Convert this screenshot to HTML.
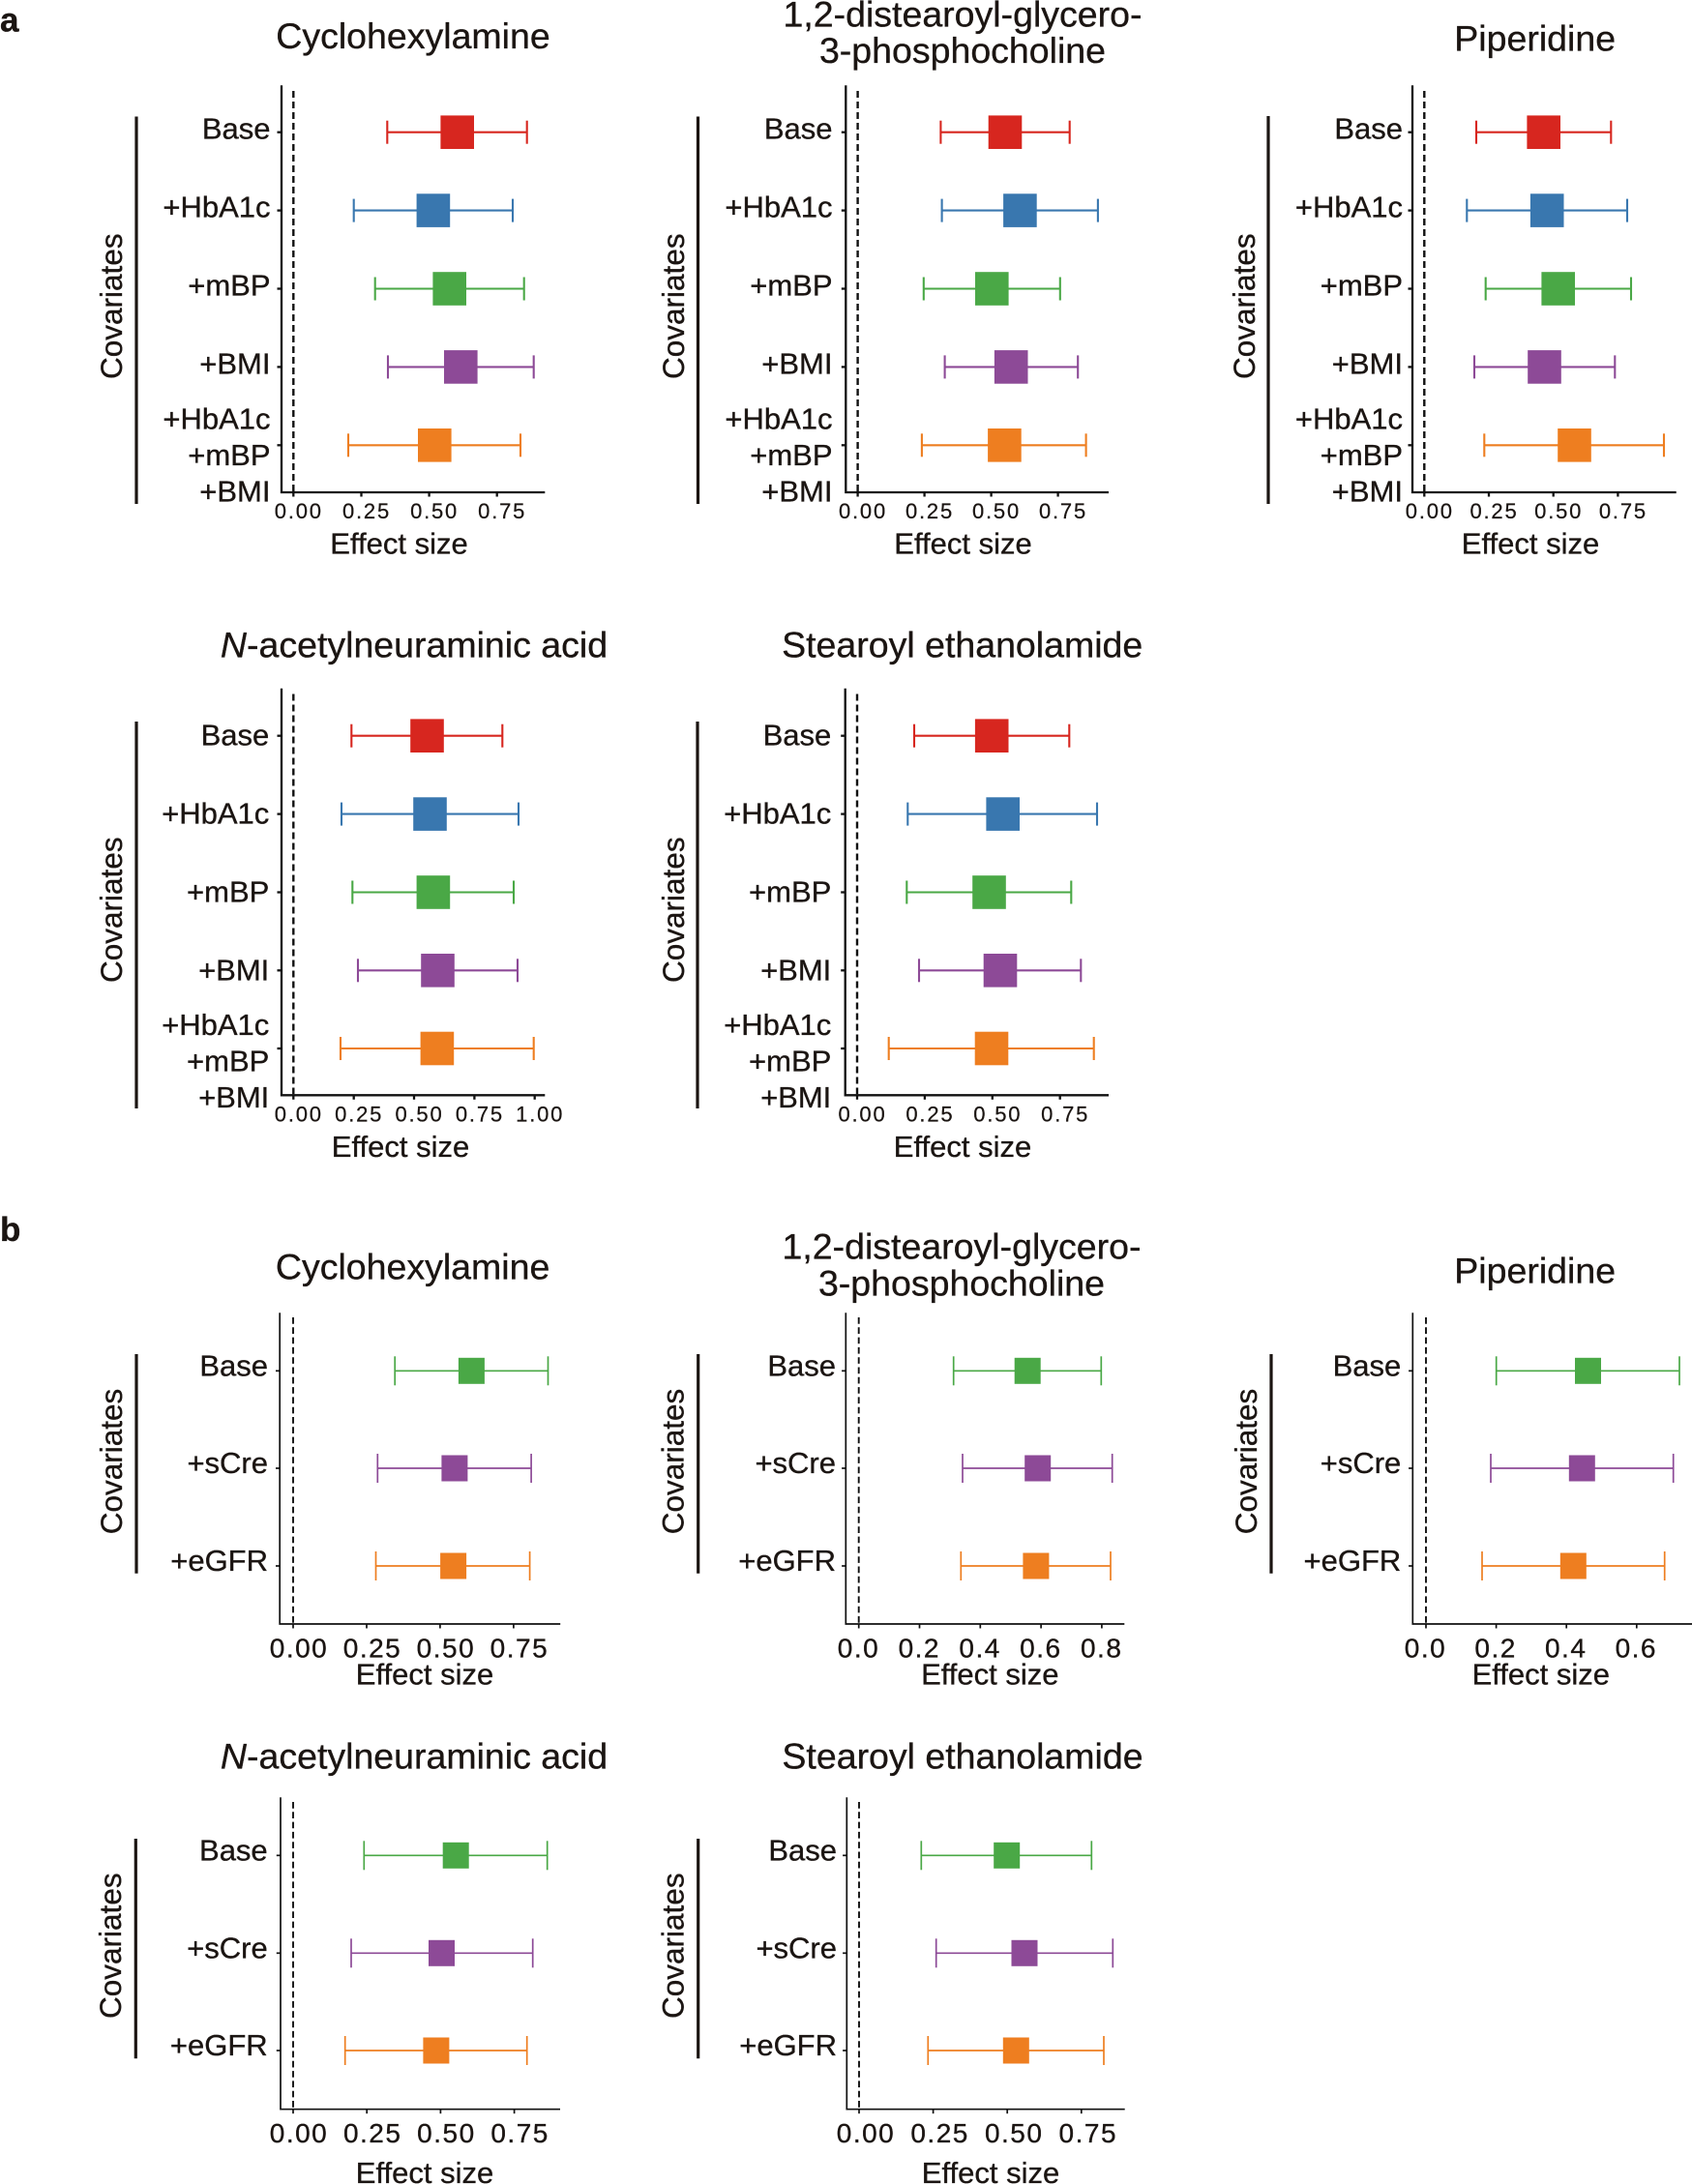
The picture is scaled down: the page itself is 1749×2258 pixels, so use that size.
<!DOCTYPE html>
<html>
<head>
<meta charset="utf-8">
<style>
html,body{margin:0;padding:0;background:#fff;}
svg{display:block;}
text{font-family:"Liberation Sans",Arial,sans-serif;fill:#1b1512;stroke:#1b1512;stroke-width:0.35px;}
.ttl{font-size:37.5px;text-anchor:middle;}
.lab{font-size:31px;text-anchor:end;}
.tka{font-size:22px;letter-spacing:1.8px;text-anchor:middle;stroke-width:0.25px;}
.tkb{font-size:28px;letter-spacing:1.5px;text-anchor:middle;}
.axt{font-size:31px;text-anchor:middle;}
.cov{font-size:31.5px;text-anchor:middle;}
.pl{font-size:35px;font-weight:bold;}
.axa{stroke:#111;stroke-width:2.3;fill:none;}
.axb{stroke:#111;stroke-width:1.7;fill:none;}
.dsa{stroke:#111;stroke-width:2.4;stroke-dasharray:7 4;}
.dsb{stroke:#111;stroke-width:1.9;stroke-dasharray:6.7 3.6;}
.br{stroke:#1b1512;stroke-width:3.2;}
.wa{stroke-width:2.1;fill:none;}
.wb{stroke-width:1.7;fill:none;}
.r{stroke:#D7261F;fill:#D7261F;}
.u{stroke:#3977AF;fill:#3977AF;}
.g{stroke:#4AA846;fill:#4AA846;}
.p{stroke:#8D4A97;fill:#8D4A97;}
.o{stroke:#EE7E20;fill:#EE7E20;}
.wa line,.wb line{fill:none;}
rect{stroke:none;}
</style>
</head>
<body>
<svg width="1749" height="2258" viewBox="0 0 1749 2258" xmlns="http://www.w3.org/2000/svg">
<rect x="0" y="0" width="1749" height="2258" fill="#fff"/>

<!-- panel labels -->
<text class="pl" x="0" y="32.6">a</text>
<text class="pl" x="0" y="1283">b</text>

<!-- ============ a1 Cyclohexylamine ============ -->
<text class="ttl" x="427" y="50">Cyclohexylamine</text>
<line class="br" x1="141" y1="120.5" x2="141" y2="521"/>
<text class="cov" transform="translate(126,316.7) rotate(-90)">Covariates</text>
<path class="axa" d="M291,88.3 V509 H563.3"/>
<line class="dsa" x1="303.3" y1="94" x2="303.3" y2="508"/>
<g class="axa">
<line x1="286.5" y1="136.7" x2="291" y2="136.7"/><line x1="286.5" y1="217.6" x2="291" y2="217.6"/><line x1="286.5" y1="298.5" x2="291" y2="298.5"/><line x1="286.5" y1="379.4" x2="291" y2="379.4"/><line x1="286.5" y1="460.3" x2="291" y2="460.3"/>
<line x1="303.3" y1="509" x2="303.3" y2="513.5"/><line x1="373.5" y1="509" x2="373.5" y2="513.5"/><line x1="443.6" y1="509" x2="443.6" y2="513.5"/><line x1="513.7" y1="509" x2="513.7" y2="513.5"/>
</g>
<text class="tka" x="308.8" y="536">0.00</text><text class="tka" x="379" y="536">0.25</text><text class="tka" x="449.1" y="536">0.50</text><text class="tka" x="519.2" y="536">0.75</text>
<text class="axt" x="412.5" y="572.7">Effect size</text>
<text class="lab" x="279.5" y="143.6">Base</text>
<text class="lab" x="279.5" y="224.5">+HbA1c</text>
<text class="lab" x="279.5" y="305.4">+mBP</text>
<text class="lab" x="279.5" y="386.3">+BMI</text>
<text class="lab" x="279.5" y="443.3">+HbA1c</text>
<text class="lab" x="279.5" y="480.8">+mBP</text>
<text class="lab" x="279.5" y="518.3">+BMI</text>
<g class="wa r"><line x1="400.3" y1="136.7" x2="544.7" y2="136.7"/><line x1="400.3" y1="124.7" x2="400.3" y2="148.7"/><line x1="544.7" y1="124.7" x2="544.7" y2="148.7"/></g><rect class="r" x="455.9" y="119.9" width="33.6" height="33.6"/>
<g class="wa u"><line x1="365.7" y1="217.6" x2="530" y2="217.6"/><line x1="365.7" y1="205.6" x2="365.7" y2="229.6"/><line x1="530" y1="205.6" x2="530" y2="229.6"/></g><rect class="u" x="431.1" y="200.8" width="33.6" height="33.6"/>
<g class="wa g"><line x1="387.7" y1="298.5" x2="541.7" y2="298.5"/><line x1="387.7" y1="286.5" x2="387.7" y2="310.5"/><line x1="541.7" y1="286.5" x2="541.7" y2="310.5"/></g><rect class="g" x="447.9" y="281.7" width="33.6" height="33.6"/>
<g class="wa p"><line x1="401" y1="379.4" x2="551.7" y2="379.4"/><line x1="401" y1="367.4" x2="401" y2="391.4"/><line x1="551.7" y1="367.4" x2="551.7" y2="391.4"/></g><rect class="p" x="459.5" y="362.6" width="33.6" height="33.6"/>
<g class="wa o"><line x1="360" y1="460.3" x2="538" y2="460.3"/><line x1="360" y1="448.3" x2="360" y2="472.3"/><line x1="538" y1="448.3" x2="538" y2="472.3"/></g><rect class="o" x="432.5" y="443.5" width="33.6" height="33.6"/>

<!-- ============ a2 DSPC ============ -->
<text class="ttl" x="995" y="27.6">1,2-distearoyl-glycero-</text>
<text class="ttl" x="995" y="65.1">3-phosphocholine</text>
<line class="br" x1="721.5" y1="120.5" x2="721.5" y2="521"/>
<text class="cov" transform="translate(707,316.7) rotate(-90)">Covariates</text>
<path class="axa" d="M874.3,88.3 V509 H1146"/>
<line class="dsa" x1="886.6" y1="94" x2="886.6" y2="508"/>
<g class="axa">
<line x1="869.8" y1="136.7" x2="874.3" y2="136.7"/><line x1="869.8" y1="217.6" x2="874.3" y2="217.6"/><line x1="869.8" y1="298.5" x2="874.3" y2="298.5"/><line x1="869.8" y1="379.4" x2="874.3" y2="379.4"/><line x1="869.8" y1="460.3" x2="874.3" y2="460.3"/>
<line x1="886.6" y1="509" x2="886.6" y2="513.5"/><line x1="955.6" y1="509" x2="955.6" y2="513.5"/><line x1="1024.6" y1="509" x2="1024.6" y2="513.5"/><line x1="1093.6" y1="509" x2="1093.6" y2="513.5"/>
</g>
<text class="tka" x="892" y="536">0.00</text><text class="tka" x="961" y="536">0.25</text><text class="tka" x="1030" y="536">0.50</text><text class="tka" x="1099" y="536">0.75</text>
<text class="axt" x="995.5" y="572.3">Effect size</text>
<text class="lab" x="860.5" y="143.6">Base</text>
<text class="lab" x="860.5" y="224.5">+HbA1c</text>
<text class="lab" x="860.5" y="305.4">+mBP</text>
<text class="lab" x="860.5" y="386.3">+BMI</text>
<text class="lab" x="860.5" y="443.3">+HbA1c</text>
<text class="lab" x="860.5" y="480.8">+mBP</text>
<text class="lab" x="860.5" y="518.3">+BMI</text>
<g class="wa r"><line x1="972.4" y1="136.7" x2="1105.7" y2="136.7"/><line x1="972.4" y1="124.7" x2="972.4" y2="148.7"/><line x1="1105.7" y1="124.7" x2="1105.7" y2="148.7"/></g><rect class="r" x="1022.2" y="119.9" width="33.6" height="33.6"/>
<g class="wa u"><line x1="973.6" y1="217.6" x2="1134.9" y2="217.6"/><line x1="973.6" y1="205.6" x2="973.6" y2="229.6"/><line x1="1134.9" y1="205.6" x2="1134.9" y2="229.6"/></g><rect class="u" x="1037.6" y="200.8" width="33.6" height="33.6"/>
<g class="wa g"><line x1="954.8" y1="298.5" x2="1095.8" y2="298.5"/><line x1="954.8" y1="286.5" x2="954.8" y2="310.5"/><line x1="1095.8" y1="286.5" x2="1095.8" y2="310.5"/></g><rect class="g" x="1008.5" y="281.7" width="33.6" height="33.6"/>
<g class="wa p"><line x1="976.6" y1="379.4" x2="1114.2" y2="379.4"/><line x1="976.6" y1="367.4" x2="976.6" y2="391.4"/><line x1="1114.2" y1="367.4" x2="1114.2" y2="391.4"/></g><rect class="p" x="1028.4" y="362.6" width="33.6" height="33.6"/>
<g class="wa o"><line x1="952.9" y1="460.3" x2="1122.6" y2="460.3"/><line x1="952.9" y1="448.3" x2="952.9" y2="472.3"/><line x1="1122.6" y1="448.3" x2="1122.6" y2="472.3"/></g><rect class="o" x="1021.6" y="443.5" width="33.6" height="33.6"/>

<!-- ============ a3 Piperidine ============ -->
<text class="ttl" x="1586.7" y="52.7">Piperidine</text>
<line class="br" x1="1311" y1="120" x2="1311" y2="521"/>
<text class="cov" transform="translate(1297,316.7) rotate(-90)">Covariates</text>
<path class="axa" d="M1460,88.3 V509 H1732.7"/>
<line class="dsa" x1="1472.3" y1="94" x2="1472.3" y2="508"/>
<g class="axa">
<line x1="1455.5" y1="136.7" x2="1460" y2="136.7"/><line x1="1455.5" y1="217.6" x2="1460" y2="217.6"/><line x1="1455.5" y1="298.5" x2="1460" y2="298.5"/><line x1="1455.5" y1="379.4" x2="1460" y2="379.4"/><line x1="1455.5" y1="460.3" x2="1460" y2="460.3"/>
<line x1="1472.3" y1="509" x2="1472.3" y2="513.5"/><line x1="1539" y1="509" x2="1539" y2="513.5"/><line x1="1605.7" y1="509" x2="1605.7" y2="513.5"/><line x1="1672.4" y1="509" x2="1672.4" y2="513.5"/>
</g>
<text class="tka" x="1477.8" y="536">0.00</text><text class="tka" x="1544.5" y="536">0.25</text><text class="tka" x="1611.2" y="536">0.50</text><text class="tka" x="1677.9" y="536">0.75</text>
<text class="axt" x="1582" y="572.7">Effect size</text>
<text class="lab" x="1450" y="143.6">Base</text>
<text class="lab" x="1450" y="224.5">+HbA1c</text>
<text class="lab" x="1450" y="305.4">+mBP</text>
<text class="lab" x="1450" y="386.3">+BMI</text>
<text class="lab" x="1450" y="443.3">+HbA1c</text>
<text class="lab" x="1450" y="480.8">+mBP</text>
<text class="lab" x="1450" y="518.3">+BMI</text>
<g class="wa r"><line x1="1526" y1="136.7" x2="1665.3" y2="136.7"/><line x1="1526" y1="124.7" x2="1526" y2="148.7"/><line x1="1665.3" y1="124.7" x2="1665.3" y2="148.7"/></g><rect class="r" x="1578.9" y="119.9" width="33.6" height="33.6"/>
<g class="wa u"><line x1="1516.3" y1="217.6" x2="1682" y2="217.6"/><line x1="1516.3" y1="205.6" x2="1516.3" y2="229.6"/><line x1="1682" y1="205.6" x2="1682" y2="229.6"/></g><rect class="u" x="1582.4" y="200.8" width="33.6" height="33.6"/>
<g class="wa g"><line x1="1535.7" y1="298.5" x2="1686" y2="298.5"/><line x1="1535.7" y1="286.5" x2="1535.7" y2="310.5"/><line x1="1686" y1="286.5" x2="1686" y2="310.5"/></g><rect class="g" x="1593.9" y="281.7" width="33.6" height="33.6"/>
<g class="wa p"><line x1="1524" y1="379.4" x2="1669.3" y2="379.4"/><line x1="1524" y1="367.4" x2="1524" y2="391.4"/><line x1="1669.3" y1="367.4" x2="1669.3" y2="391.4"/></g><rect class="p" x="1579.7" y="362.6" width="33.6" height="33.6"/>
<g class="wa o"><line x1="1534.3" y1="460.3" x2="1720" y2="460.3"/><line x1="1534.3" y1="448.3" x2="1534.3" y2="472.3"/><line x1="1720" y1="448.3" x2="1720" y2="472.3"/></g><rect class="o" x="1610.7" y="443.5" width="33.6" height="33.6"/>

<!-- ============ a4 N-acetylneuraminic acid ============ -->
<text class="ttl" x="428" y="679.3"><tspan font-style="italic">N</tspan>-acetylneuraminic acid</text>
<line class="br" x1="141" y1="746" x2="141" y2="1146"/>
<text class="cov" transform="translate(126,940.7) rotate(-90)">Covariates</text>
<path class="axa" d="M291,711.7 V1132.3 H563.3"/>
<line class="dsa" x1="303.3" y1="717.5" x2="303.3" y2="1131.3"/>
<g class="axa">
<line x1="286.5" y1="760.7" x2="291" y2="760.7"/><line x1="286.5" y1="841.6" x2="291" y2="841.6"/><line x1="286.5" y1="922.5" x2="291" y2="922.5"/><line x1="286.5" y1="1003.3" x2="291" y2="1003.3"/><line x1="286.5" y1="1084" x2="291" y2="1084"/>
<line x1="303.3" y1="1132.3" x2="303.3" y2="1136.8"/><line x1="365.7" y1="1132.3" x2="365.7" y2="1136.8"/><line x1="428" y1="1132.3" x2="428" y2="1136.8"/><line x1="490.4" y1="1132.3" x2="490.4" y2="1136.8"/><line x1="552.7" y1="1132.3" x2="552.7" y2="1136.8"/>
</g>
<text class="tka" x="308.8" y="1159.5">0.00</text><text class="tka" x="371.2" y="1159.5">0.25</text><text class="tka" x="433.5" y="1159.5">0.50</text><text class="tka" x="495.9" y="1159.5">0.75</text><text class="tka" x="558.2" y="1159.5">1.00</text>
<text class="axt" x="414" y="1196">Effect size</text>
<text class="lab" x="278.3" y="770.7">Base</text>
<text class="lab" x="278.3" y="851.6">+HbA1c</text>
<text class="lab" x="278.3" y="932.5">+mBP</text>
<text class="lab" x="278.3" y="1013.3">+BMI</text>
<text class="lab" x="278.3" y="1070">+HbA1c</text>
<text class="lab" x="278.3" y="1107.5">+mBP</text>
<text class="lab" x="278.3" y="1145">+BMI</text>
<g class="wa r"><line x1="363.3" y1="760.7" x2="519.3" y2="760.7"/><line x1="363.3" y1="748.7" x2="363.3" y2="772.7"/><line x1="519.3" y1="748.7" x2="519.3" y2="772.7"/></g><rect class="r" x="424.7" y="743.9" width="33.6" height="33.6"/>
<g class="wa u"><line x1="353" y1="841.6" x2="536" y2="841.6"/><line x1="353" y1="829.6" x2="353" y2="853.6"/><line x1="536" y1="829.6" x2="536" y2="853.6"/></g><rect class="u" x="427.7" y="824.8" width="33.6" height="33.6"/>
<g class="wa g"><line x1="364.3" y1="922.5" x2="531" y2="922.5"/><line x1="364.3" y1="910.5" x2="364.3" y2="934.5"/><line x1="531" y1="910.5" x2="531" y2="934.5"/></g><rect class="g" x="431.1" y="905.7" width="33.6" height="33.6"/>
<g class="wa p"><line x1="370" y1="1003.3" x2="535" y2="1003.3"/><line x1="370" y1="991.3" x2="370" y2="1015.3"/><line x1="535" y1="991.3" x2="535" y2="1015.3"/></g><rect class="p" x="435.7" y="986.5" width="33.6" height="33.6"/>
<g class="wa o"><line x1="352" y1="1084" x2="551.7" y2="1084"/><line x1="352" y1="1072" x2="352" y2="1096"/><line x1="551.7" y1="1072" x2="551.7" y2="1096"/></g><rect class="o" x="435.1" y="1067.2" width="33.6" height="33.6"/>

<!-- ============ a5 Stearoyl ethanolamide ============ -->
<text class="ttl" x="994.7" y="679.3">Stearoyl ethanolamide</text>
<line class="br" x1="721" y1="746" x2="721" y2="1146"/>
<text class="cov" transform="translate(707,940.7) rotate(-90)">Covariates</text>
<path class="axa" d="M873.7,711.7 V1132.3 H1146"/>
<line class="dsa" x1="886" y1="717.5" x2="886" y2="1131.3"/>
<g class="axa">
<line x1="869.2" y1="760.7" x2="873.7" y2="760.7"/><line x1="869.2" y1="841.6" x2="873.7" y2="841.6"/><line x1="869.2" y1="922.5" x2="873.7" y2="922.5"/><line x1="869.2" y1="1003.3" x2="873.7" y2="1003.3"/><line x1="869.2" y1="1084" x2="873.7" y2="1084"/>
<line x1="886" y1="1132.3" x2="886" y2="1136.8"/><line x1="955.9" y1="1132.3" x2="955.9" y2="1136.8"/><line x1="1025.8" y1="1132.3" x2="1025.8" y2="1136.8"/><line x1="1095.7" y1="1132.3" x2="1095.7" y2="1136.8"/>
</g>
<text class="tka" x="891.5" y="1159.5">0.00</text><text class="tka" x="961.4" y="1159.5">0.25</text><text class="tka" x="1031.3" y="1159.5">0.50</text><text class="tka" x="1101.2" y="1159.5">0.75</text>
<text class="axt" x="995" y="1196">Effect size</text>
<text class="lab" x="859.3" y="770.7">Base</text>
<text class="lab" x="859.3" y="851.6">+HbA1c</text>
<text class="lab" x="859.3" y="932.5">+mBP</text>
<text class="lab" x="859.3" y="1013.3">+BMI</text>
<text class="lab" x="859.3" y="1070">+HbA1c</text>
<text class="lab" x="859.3" y="1107.5">+mBP</text>
<text class="lab" x="859.3" y="1145">+BMI</text>
<g class="wa r"><line x1="945" y1="760.7" x2="1105.3" y2="760.7"/><line x1="945" y1="748.7" x2="945" y2="772.7"/><line x1="1105.3" y1="748.7" x2="1105.3" y2="772.7"/></g><rect class="r" x="1008.4" y="743.9" width="33.6" height="33.6"/>
<g class="wa u"><line x1="938.3" y1="841.6" x2="1134" y2="841.6"/><line x1="938.3" y1="829.6" x2="938.3" y2="853.6"/><line x1="1134" y1="829.6" x2="1134" y2="853.6"/></g><rect class="u" x="1019.9" y="824.8" width="33.6" height="33.6"/>
<g class="wa g"><line x1="937.3" y1="922.5" x2="1107.3" y2="922.5"/><line x1="937.3" y1="910.5" x2="937.3" y2="934.5"/><line x1="1107.3" y1="910.5" x2="1107.3" y2="934.5"/></g><rect class="g" x="1005.7" y="905.7" width="33.6" height="33.6"/>
<g class="wa p"><line x1="950" y1="1003.3" x2="1117.3" y2="1003.3"/><line x1="950" y1="991.3" x2="950" y2="1015.3"/><line x1="1117.3" y1="991.3" x2="1117.3" y2="1015.3"/></g><rect class="p" x="1017.2" y="986.5" width="33.6" height="33.6"/>
<g class="wa o"><line x1="918.7" y1="1084" x2="1130.7" y2="1084"/><line x1="918.7" y1="1072" x2="918.7" y2="1096"/><line x1="1130.7" y1="1072" x2="1130.7" y2="1096"/></g><rect class="o" x="1008.2" y="1067.2" width="33.6" height="33.6"/>

<!-- ============ b1 Cyclohexylamine ============ -->
<text class="ttl" x="426.6" y="1322.7">Cyclohexylamine</text>
<line class="br" x1="141" y1="1400" x2="141" y2="1626.7"/>
<text class="cov" transform="translate(126,1511) rotate(-90)">Covariates</text>
<path class="axb" d="M289.2,1357.3 V1679 H579.2"/>
<line class="dsb" x1="303" y1="1362" x2="303" y2="1678"/>
<g class="axb">
<line x1="285" y1="1417.3" x2="289.2" y2="1417.3"/><line x1="285" y1="1518" x2="289.2" y2="1518"/><line x1="285" y1="1619" x2="289.2" y2="1619"/>
<line x1="303" y1="1679" x2="303" y2="1683.5"/><line x1="379" y1="1679" x2="379" y2="1683.5"/><line x1="454.9" y1="1679" x2="454.9" y2="1683.5"/><line x1="530.9" y1="1679" x2="530.9" y2="1683.5"/>
</g>
<text class="tkb" x="309" y="1713.3">0.00</text><text class="tkb" x="385" y="1713.3">0.25</text><text class="tkb" x="460.9" y="1713.3">0.50</text><text class="tkb" x="536.9" y="1713.3">0.75</text>
<text class="axt" x="439" y="1741.7">Effect size</text>
<text class="lab" x="277" y="1422.3">Base</text>
<text class="lab" x="277" y="1523">+sCre</text>
<text class="lab" x="277" y="1624">+eGFR</text>
<g class="wb g"><line x1="408.2" y1="1417.3" x2="566.5" y2="1417.3"/><line x1="408.2" y1="1402.3" x2="408.2" y2="1432.3"/><line x1="566.5" y1="1402.3" x2="566.5" y2="1432.3"/></g><rect class="g" x="474.4" y="1404.3" width="26" height="26"/>
<g class="wb p"><line x1="390.3" y1="1518" x2="549.1" y2="1518"/><line x1="390.3" y1="1503" x2="390.3" y2="1533"/><line x1="549.1" y1="1503" x2="549.1" y2="1533"/></g><rect class="p" x="456.9" y="1505" width="26" height="26"/>
<g class="wb o"><line x1="388.5" y1="1619" x2="547.6" y2="1619"/><line x1="388.5" y1="1604" x2="388.5" y2="1634"/><line x1="547.6" y1="1604" x2="547.6" y2="1634"/></g><rect class="o" x="455.6" y="1606" width="26" height="26"/>

<!-- ============ b2 DSPC ============ -->
<text class="ttl" x="994" y="1301.7">1,2-distearoyl-glycero-</text>
<text class="ttl" x="994" y="1339.3">3-phosphocholine</text>
<line class="br" x1="721.7" y1="1400" x2="721.7" y2="1626.7"/>
<text class="cov" transform="translate(706.7,1511) rotate(-90)">Covariates</text>
<path class="axb" d="M874.3,1357.3 V1679 H1162.3"/>
<line class="dsb" x1="887.7" y1="1362" x2="887.7" y2="1678"/>
<g class="axb">
<line x1="870.1" y1="1417.3" x2="874.3" y2="1417.3"/><line x1="870.1" y1="1518" x2="874.3" y2="1518"/><line x1="870.1" y1="1619" x2="874.3" y2="1619"/>
<line x1="887.7" y1="1679" x2="887.7" y2="1683.5"/><line x1="950.5" y1="1679" x2="950.5" y2="1683.5"/><line x1="1013.3" y1="1679" x2="1013.3" y2="1683.5"/><line x1="1076.1" y1="1679" x2="1076.1" y2="1683.5"/><line x1="1138.9" y1="1679" x2="1138.9" y2="1683.5"/>
</g>
<text class="tkb" x="887.5" y="1713.3">0.0</text><text class="tkb" x="950.3" y="1713.3">0.2</text><text class="tkb" x="1013.1" y="1713.3">0.4</text><text class="tkb" x="1075.9" y="1713.3">0.6</text><text class="tkb" x="1138.7" y="1713.3">0.8</text>
<text class="axt" x="1023.3" y="1741.7">Effect size</text>
<text class="lab" x="864" y="1422.3">Base</text>
<text class="lab" x="864" y="1523">+sCre</text>
<text class="lab" x="864" y="1624">+eGFR</text>
<g class="wb g"><line x1="985.7" y1="1417.3" x2="1138.3" y2="1417.3"/><line x1="985.7" y1="1402.3" x2="985.7" y2="1432.3"/><line x1="1138.3" y1="1402.3" x2="1138.3" y2="1432.3"/></g><rect class="g" x="1049.2" y="1404.3" width="26" height="26"/>
<g class="wb p"><line x1="995" y1="1518" x2="1149.7" y2="1518"/><line x1="995" y1="1503" x2="995" y2="1533"/><line x1="1149.7" y1="1503" x2="1149.7" y2="1533"/></g><rect class="p" x="1059.7" y="1505" width="26" height="26"/>
<g class="wb o"><line x1="993.3" y1="1619" x2="1148" y2="1619"/><line x1="993.3" y1="1604" x2="993.3" y2="1634"/><line x1="1148" y1="1604" x2="1148" y2="1634"/></g><rect class="o" x="1057.9" y="1606" width="26" height="26"/>

<!-- ============ b3 Piperidine ============ -->
<text class="ttl" x="1586.7" y="1326.7">Piperidine</text>
<line class="br" x1="1314" y1="1400" x2="1314" y2="1626.7"/>
<text class="cov" transform="translate(1299,1511) rotate(-90)">Covariates</text>
<path class="axb" d="M1460.3,1357.3 V1679 H1749"/>
<line class="dsb" x1="1474" y1="1362" x2="1474" y2="1678"/>
<g class="axb">
<line x1="1456.1" y1="1417.3" x2="1460.3" y2="1417.3"/><line x1="1456.1" y1="1518" x2="1460.3" y2="1518"/><line x1="1456.1" y1="1619" x2="1460.3" y2="1619"/>
<line x1="1474" y1="1679" x2="1474" y2="1683.5"/><line x1="1546.6" y1="1679" x2="1546.6" y2="1683.5"/><line x1="1619.2" y1="1679" x2="1619.2" y2="1683.5"/><line x1="1691.8" y1="1679" x2="1691.8" y2="1683.5"/>
</g>
<text class="tkb" x="1473.5" y="1713.3">0.0</text><text class="tkb" x="1546.1" y="1713.3">0.2</text><text class="tkb" x="1618.7" y="1713.3">0.4</text><text class="tkb" x="1691.3" y="1713.3">0.6</text>
<text class="axt" x="1592.8" y="1741.7">Effect size</text>
<text class="lab" x="1448.3" y="1422.3">Base</text>
<text class="lab" x="1448.3" y="1523">+sCre</text>
<text class="lab" x="1448.3" y="1624">+eGFR</text>
<g class="wb g"><line x1="1546.7" y1="1417.3" x2="1736" y2="1417.3"/><line x1="1546.7" y1="1402.3" x2="1546.7" y2="1432.3"/><line x1="1736" y1="1402.3" x2="1736" y2="1432.3"/></g><rect class="g" x="1628.5" y="1404.3" width="26" height="26"/>
<g class="wb p"><line x1="1541" y1="1518" x2="1729.7" y2="1518"/><line x1="1541" y1="1503" x2="1541" y2="1533"/><line x1="1729.7" y1="1503" x2="1729.7" y2="1533"/></g><rect class="p" x="1622.3" y="1505" width="26" height="26"/>
<g class="wb o"><line x1="1532" y1="1619" x2="1720.7" y2="1619"/><line x1="1532" y1="1604" x2="1532" y2="1634"/><line x1="1720.7" y1="1604" x2="1720.7" y2="1634"/></g><rect class="o" x="1613.3" y="1606" width="26" height="26"/>

<!-- ============ b4 N-acetylneuraminic acid ============ -->
<text class="ttl" x="428" y="1828.3"><tspan font-style="italic">N</tspan>-acetylneuraminic acid</text>
<line class="br" x1="140.3" y1="1901" x2="140.3" y2="2128.3"/>
<text class="cov" transform="translate(125,2011.7) rotate(-90)">Covariates</text>
<path class="axb" d="M290,1858.3 V2180.7 H579"/>
<line class="dsb" x1="303" y1="1863" x2="303" y2="2179.7"/>
<g class="axb">
<line x1="285.8" y1="1918.3" x2="290" y2="1918.3"/><line x1="285.8" y1="2019.3" x2="290" y2="2019.3"/><line x1="285.8" y1="2120" x2="290" y2="2120"/>
<line x1="303" y1="2180.7" x2="303" y2="2185.2"/><line x1="379.2" y1="2180.7" x2="379.2" y2="2185.2"/><line x1="455.4" y1="2180.7" x2="455.4" y2="2185.2"/><line x1="531.6" y1="2180.7" x2="531.6" y2="2185.2"/>
</g>
<text class="tkb" x="309" y="2215">0.00</text><text class="tkb" x="385.2" y="2215">0.25</text><text class="tkb" x="461.4" y="2215">0.50</text><text class="tkb" x="537.6" y="2215">0.75</text>
<text class="axt" x="439" y="2257">Effect size</text>
<text class="lab" x="276.7" y="1923.3">Base</text>
<text class="lab" x="276.7" y="2024.3">+sCre</text>
<text class="lab" x="276.7" y="2125">+eGFR</text>
<g class="wb g"><line x1="376.3" y1="1918.3" x2="565.7" y2="1918.3"/><line x1="376.3" y1="1903.3" x2="376.3" y2="1933.3"/><line x1="565.7" y1="1903.3" x2="565.7" y2="1933.3"/></g><rect class="g" x="458.2" y="1905.3" width="26" height="26"/>
<g class="wb p"><line x1="363" y1="2019.3" x2="550.7" y2="2019.3"/><line x1="363" y1="2004.3" x2="363" y2="2034.3"/><line x1="550.7" y1="2004.3" x2="550.7" y2="2034.3"/></g><rect class="p" x="443.5" y="2006.3" width="26" height="26"/>
<g class="wb o"><line x1="356.7" y1="2120" x2="544.7" y2="2120"/><line x1="356.7" y1="2105" x2="356.7" y2="2135"/><line x1="544.7" y1="2105" x2="544.7" y2="2135"/></g><rect class="o" x="437.9" y="2107" width="26" height="26"/>

<!-- ============ b5 Stearoyl ethanolamide ============ -->
<text class="ttl" x="995" y="1828.3">Stearoyl ethanolamide</text>
<line class="br" x1="721.7" y1="1901" x2="721.7" y2="2128.3"/>
<text class="cov" transform="translate(706.7,2011.7) rotate(-90)">Covariates</text>
<path class="axb" d="M875.3,1858.3 V2180.7 H1162.7"/>
<line class="dsb" x1="888" y1="1863" x2="888" y2="2179.7"/>
<g class="axb">
<line x1="871.1" y1="1918.3" x2="875.3" y2="1918.3"/><line x1="871.1" y1="2019.3" x2="875.3" y2="2019.3"/><line x1="871.1" y1="2120" x2="875.3" y2="2120"/>
<line x1="888" y1="2180.7" x2="888" y2="2185.2"/><line x1="964.6" y1="2180.7" x2="964.6" y2="2185.2"/><line x1="1041.2" y1="2180.7" x2="1041.2" y2="2185.2"/><line x1="1117.8" y1="2180.7" x2="1117.8" y2="2185.2"/>
</g>
<text class="tkb" x="895" y="2215">0.00</text><text class="tkb" x="971.6" y="2215">0.25</text><text class="tkb" x="1048.2" y="2215">0.50</text><text class="tkb" x="1124.8" y="2215">0.75</text>
<text class="axt" x="1024" y="2257">Effect size</text>
<text class="lab" x="865" y="1923.3">Base</text>
<text class="lab" x="865" y="2024.3">+sCre</text>
<text class="lab" x="865" y="2125">+eGFR</text>
<g class="wb g"><line x1="952.3" y1="1918.3" x2="1128.3" y2="1918.3"/><line x1="952.3" y1="1903.3" x2="952.3" y2="1933.3"/><line x1="1128.3" y1="1903.3" x2="1128.3" y2="1933.3"/></g><rect class="g" x="1027.7" y="1905.3" width="26" height="26"/>
<g class="wb p"><line x1="967.7" y1="2019.3" x2="1150.3" y2="2019.3"/><line x1="967.7" y1="2004.3" x2="967.7" y2="2034.3"/><line x1="1150.3" y1="2004.3" x2="1150.3" y2="2034.3"/></g><rect class="p" x="1046" y="2006.3" width="26" height="26"/>
<g class="wb o"><line x1="959.3" y1="2120" x2="1141" y2="2120"/><line x1="959.3" y1="2105" x2="959.3" y2="2135"/><line x1="1141" y1="2105" x2="1141" y2="2135"/></g><rect class="o" x="1037.3" y="2107" width="26" height="26"/>

</svg>
</body>
</html>
